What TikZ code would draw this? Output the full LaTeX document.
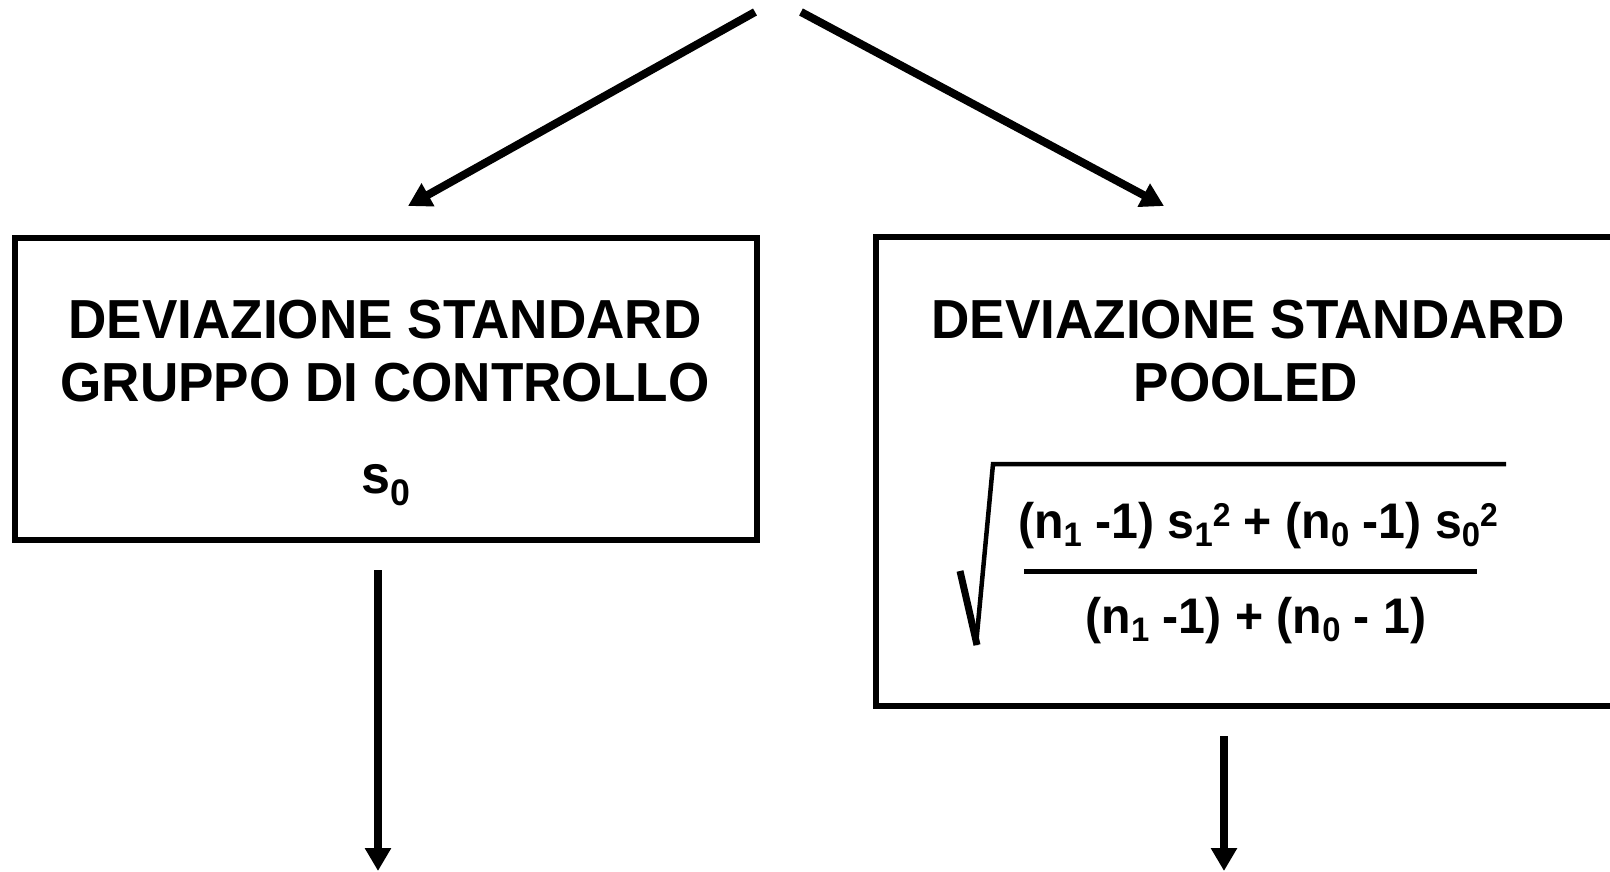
\documentclass[tikz,border=0pt]{standalone}
\usepackage{fontspec}
\setmainfont[FakeStretch=0.965]{Liberation Sans}
\usetikzlibrary{arrows.meta}
\newcommand{\lowsub}[1]{\raisebox{-8pt}{\fontsize{34}{34}\selectfont #1}}
\newcommand{\highsup}[1]{\raisebox{12pt}{\fontsize{33}{33}\selectfont #1}}
\begin{document}
\begin{tikzpicture}[x=1pt,y=-1pt,
  box/.style={draw, line width=6pt, inner sep=0pt},
  title/.style={font=\fontsize{55}{60}\selectfont\bfseries, anchor=base, inner sep=0pt},
  formula/.style={font=\fontsize{50}{56}\selectfont\bfseries, anchor=base, inner sep=0pt},
  arr/.style={line width=8pt, -{Triangle[width=25pt,length=23pt]}},
  rule/.style={line width=5pt},
]
\fill[white] (0,0) rectangle (1610,871);
\useasboundingbox (0,0) rectangle (1610,871);

% boxes
\node[box, minimum width=742pt, minimum height=302pt] (lbox) at (385.5,389) {};
\node[box, minimum width=744pt, minimum height=469pt] (rbox) at (1248,471.5) {};

% left box text
\node[title] (lt1) at (385,338) {DEVIAZIONE STANDARD};
\node[title] (lt2) at (385,401) {GRUPPO DI CONTROLLO};
\node[anchor=base, inner sep=0pt, font=\bfseries] (ls) at (386,493)
  {\fontsize{54}{60}\selectfont s\raisebox{-12pt}{\fontsize{37}{40}\selectfont 0}};

% right box text
\node[title] (rt1) at (1248,338) {DEVIAZIONE STANDARD};
\node[title] (rt2) at (1246,401) {POOLED};

% formula
\node[formula] (num) at (1258,538)
  {(n\lowsub{1} -1) s\lowsub{1}\highsup{2} + (n\lowsub{0} -1) s\lowsub{0}\highsup{2}};
\node[formula] (den) at (1256,633)
  {(n\lowsub{1} -1) + (n\lowsub{0} - 1)};
\draw[rule] (1024,571) -- (1477,571);
\draw[line width=7pt] (960,571) -- (977,645);
\draw[line width=4.5pt, line join=miter] (976,645) -- (993,464) -- (1506,464);

% arrows
\coordinate (a1s) at (755,12);
\coordinate (a1e) at (408,206);
\coordinate (a2s) at (801,12);
\coordinate (a2e) at (1164,206);
\coordinate (a3s) at (378,570);
\coordinate (a3e) at (378,871);
\coordinate (a4s) at (1224,736);
\coordinate (a4e) at (1224,871);
\draw[arr] (a1s) -- (a1e);
\draw[arr] (a2s) -- (a2e);
\draw[arr] (a3s) -- (a3e);
\draw[arr] (a4s) -- (a4e);
\end{tikzpicture}
\end{document}
